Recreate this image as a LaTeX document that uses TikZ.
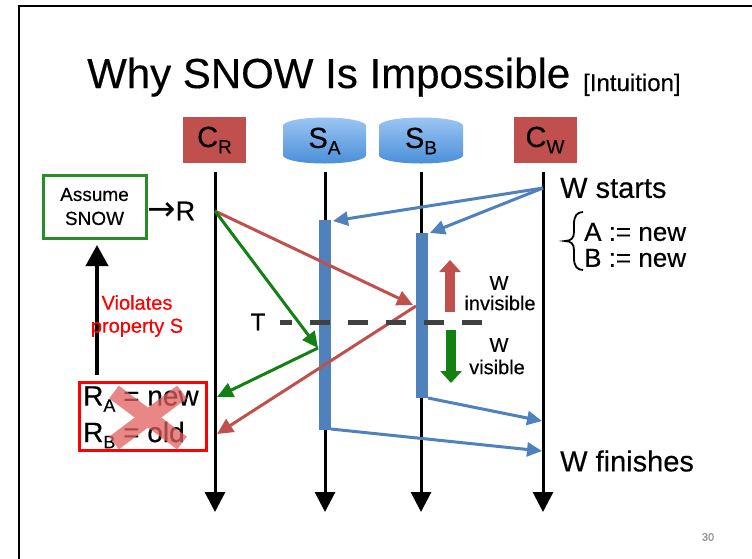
\documentclass[tikz,border=0pt]{standalone}
\usepackage{fontspec}
\setmainfont{Liberation Sans}[FakeBold=0.35]
\newfontfamily\dejavu{DejaVu Sans}
\usetikzlibrary{arrows.meta}
\definecolor{boxred}{RGB}{192,80,77}
\definecolor{barblue}{RGB}{79,129,189}
\definecolor{arrgreen}{RGB}{20,128,20}
\definecolor{snowgreen}{RGB}{40,140,40}
\definecolor{cylTop}{RGB}{160,200,245}
\definecolor{cylBot}{RGB}{70,140,215}
\definecolor{dashgray}{RGB}{64,64,64}
\definecolor{xred}{RGB}{225,95,95}
\definecolor{pagegray}{RGB}{140,140,140}
\newcommand{\myfs}[1]{\fontsize{#1}{#1}\selectfont}
\newcommand{\mysub}[2]{\raisebox{-0.22em}{\myfs{#1}#2}}
\tikzset{
  hdr/.style={fill=boxred, minimum width=63pt, minimum height=46pt, inner sep=0pt, font=\myfs{29}},
  cyltext/.style={inner sep=0pt, font=\myfs{29}},
  life/.style={line width=3pt, -{Triangle[length=20pt,width=20pt]}},
  bar/.style={fill=barblue, minimum width=12pt, inner sep=0pt},
  msg/.style={line width=3pt, -{Triangle[length=15pt,width=14pt]}},
  bigarr/.style={line width=10pt, -{Triangle[length=12pt,width=21pt]}},
  lbl/.style={inner sep=0pt, font=\myfs{20}},
  rtxt/.style={inner sep=0pt, anchor=west, font=\myfs{29}},
}
\begin{document}
\begin{tikzpicture}[x=1pt,y=-1pt]
\useasboundingbox (0,0) rectangle (752,558);
% frame
\draw[line width=2.5pt] (19,560) -- (19,6) -- (754,6);
% title
\node[inner sep=0pt, anchor=base west] (title) at (87,88) {\myfs{42}Why SNOW Is Impossible};
\node[inner sep=0pt, anchor=base west] (intu) at (583,91) {\myfs{24}[Intuition]};
% headers
\node[hdr] (CR) at (214.5,140) {C\mysub{19}{R}};
\node[hdr] (CW) at (545,140) {C\mysub{19}{W}};
\shade[top color=cylTop, bottom color=cylBot]
  (283,125) .. controls (290,115) and (359,115) .. (366,125) -- (366,156)
  .. controls (359,166) and (290,166) .. (283,156) -- cycle;
\shade[top color=cylTop, bottom color=cylBot]
  (379,125) .. controls (386,115) and (456,115) .. (463,125) -- (463,156)
  .. controls (456,166) and (386,166) .. (379,156) -- cycle;
\node[cyltext] (SA) at (324.5,141) {S\mysub{19}{A}};
\node[cyltext] (SB) at (421,141) {S\mysub{19}{B}};
% lifelines
\coordinate (crT) at (215,172); \coordinate (crB) at (215,512);
\coordinate (saT) at (325,172); \coordinate (saB) at (325,512);
\coordinate (sbT) at (421,172); \coordinate (sbB) at (421,512);
\coordinate (cwT) at (543,172); \coordinate (cwB) at (543,512);
\draw[life] (crT) -- (crB);
\draw[life] (saT) -- (saB);
\draw[life] (sbT) -- (sbB);
\draw[life] (cwT) -- (cwB);
% activation bars
\node[bar, minimum height=210pt] (barA) at (325,325) {};
\node[bar, minimum height=165pt] (barB) at (421.5,315.5) {};
% blue messages
\coordinate (w0) at (543,188);
\coordinate (aIn) at (333,221);
\coordinate (bIn) at (430,233);
\coordinate (bOut) at (428,398);
\coordinate (cw1) at (542,421);
\coordinate (aOut) at (331,429);
\coordinate (cw2) at (542,451);
\draw[msg, barblue] (w0) -- (aIn);
\draw[msg, barblue] (w0) -- (bIn);
\draw[msg, barblue] (bOut) -- (cw1);
\draw[msg, barblue] (aOut) -- (cw2);
% red and green messages
\coordinate (r0) at (215,211);
\coordinate (bR1) at (413,305);
\coordinate (bR2) at (416,306);
\coordinate (crR) at (217,434);
\coordinate (aG) at (318,348);
\coordinate (crG) at (217,397);
\draw[line width=3pt, boxred, -{Triangle[length=16pt,width=15pt]}] (r0) -- (bR1);
\draw[line width=3pt, boxred, -{Triangle[length=16pt,width=15pt]}] (bR2) -- (crR);
\draw[line width=3pt, arrgreen, -{Triangle[length=16pt,width=15pt]}] (r0) -- (aG);
\draw[line width=3pt, arrgreen, -{Triangle[length=16pt,width=15pt]}] (aG) -- (crG);
% dashed T line
\coordinate (tS) at (280,322);
\coordinate (tE) at (490,322);
\draw[dashgray, line width=5pt, dash pattern=on 20pt off 18pt, dash phase=8pt] (tS) -- (tE);
\node[inner sep=0pt, font=\myfs{24}] (T) at (258,322) {T};
% visibility arrows
\coordinate (upS) at (450,312); \coordinate (upE) at (450,260);
\coordinate (dnS) at (451,330); \coordinate (dnE) at (451,383);
\draw[bigarr, boxred] (upS) -- (upE);
\draw[bigarr, arrgreen] (dnS) -- (dnE);
\node[lbl] (w1) at (499,283) {W};
\node[lbl] (inv) at (500,303) {invisible};
\node[lbl] (w2) at (499,345) {W};
\node[lbl] (vis) at (497,367) {visible};
% left side
\node[draw=snowgreen, line width=3pt, minimum width=103pt, minimum height=63pt, align=center, inner sep=0pt, font=\fontsize{19}{24}\selectfont] (assume) at (94.5,206.5) {Assume\\SNOW};
\node[inner sep=0pt, anchor=west] (toR) at (147,211) {{\dejavu\myfs{34}→}{\myfs{27}R}};
\coordinate (upB) at (97,375); \coordinate (upT) at (97,245);
\draw[line width=4pt, -{Triangle[length=21pt,width=22pt]}] (upB) -- (upT);
\node[align=center, text=red, inner sep=0pt, font=\fontsize{20}{23}\selectfont] (viol) at (137,316) {Violates\\property S};
\node[draw=red, line width=3pt, minimum width=127pt, minimum height=68pt, inner sep=0pt] (rbox) at (142.5,416) {};
\node[inner sep=0pt, anchor=west, font=\myfs{28}] (ra) at (83,399) {R\mysub{18}{A} = new};
\node[inner sep=0pt, anchor=west, font=\myfs{28}] (rb) at (83,435) {R\mysub{18}{B} = old};
\begin{scope}[transparency group, opacity=0.75]
\coordinate (x1) at (114,392); \coordinate (x2) at (182,443);
\coordinate (x3) at (182,392); \coordinate (x4) at (114,443);
\draw[xred, line width=16pt] (x1) -- (x2);
\draw[xred, line width=16pt] (x3) -- (x4);
\end{scope}
% right side
\node[rtxt] (ws) at (560,188) {W starts};
\draw[line width=1.8pt] (583,212) .. controls (577,212) and (574,216) .. (574,224) -- (574,232)
  .. controls (574,238) and (571,241) .. (565,241) .. controls (571,241) and (574,244) .. (574,250)
  -- (574,258) .. controls (574,266) and (577,270) .. (583,270);
\node[rtxt, font=\myfs{26}] (an) at (584,232) {A := new};
\node[rtxt, font=\myfs{26}] (bn) at (584,258) {B := new};
\node[rtxt] (wf) at (560,461) {W finishes};
\node[inner sep=0pt, text=pagegray, font=\myfs{11}] (pg) at (708,537) {30};
\end{tikzpicture}
\end{document}
